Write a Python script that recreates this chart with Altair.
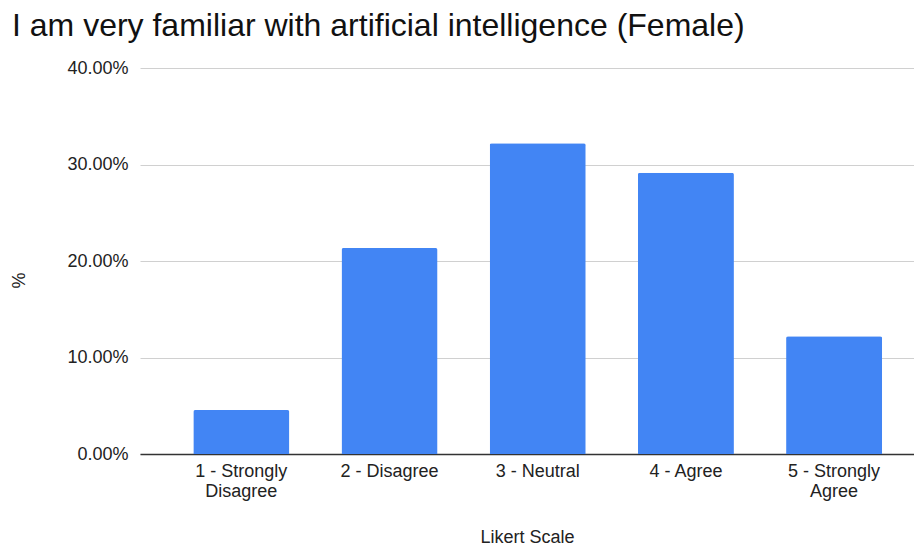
import altair as alt
import pandas as pd

categories = ["1 - Strongly\nDisagree", "2 - Disagree", "3 - Neutral", "4 - Agree", "5 - Strongly\nAgree"]
percent = [0.0456, 0.2135, 0.3220, 0.2915, 0.1220]

df = pd.DataFrame({"Likert": categories, "pct": percent})

FONT = "Liberation Sans"

chart = alt.Chart(df).mark_bar(
    color="#4285F4", cornerRadiusTopLeft=2, cornerRadiusTopRight=2
).encode(
    x=alt.X(
        "Likert:N",
        sort=categories,
        title="Likert Scale",
        scale=alt.Scale(paddingInner=0.352, paddingOuter=0.2874, align=0.6256),
        axis=alt.Axis(
            labelAngle=0,
            labelExpr="split(datum.label, '\\n')",
            labelFont=FONT,
            labelFontSize=18,
            labelColor="#222222",
            labelLineHeight=20,
            labelPadding=8,
            ticks=False,
            domainColor="#333333",
            domainWidth=1.5,
            titleFont=FONT,
            titleFontSize=18,
            titleFontWeight="normal",
            titleColor="#222222",
            titlePadding=28,
            grid=False,
        ),
    ),
    y=alt.Y(
        "pct:Q",
        title="%",
        scale=alt.Scale(domain=[0, 0.4], nice=False),
        axis=alt.Axis(
            format=".2%",
            values=[0, 0.1, 0.2, 0.3, 0.4],
            labelFont=FONT,
            labelFontSize=18,
            labelColor="#222222",
            labelPadding=12,
            ticks=False,
            domain=False,
            gridColor="#d0d0d0",
            gridWidth=1,
            titleFont=FONT,
            titleFontSize=18,
            titleFontWeight="normal",
            titleColor="#222222",
            titleX=-112,
            titleY=212,
        ),
    ),
).properties(
    width=774,
    height=386,
    autosize=alt.AutoSizeParams(type="none"),
    padding={"left": 132, "top": 60, "right": 0, "bottom": 92},
    title=alt.TitleParams(
        "I am very familiar with artificial intelligence (Female)",
        font=FONT,
        fontSize=32,
        fontWeight="normal",
        color="#111111",
        anchor="start",
        frame="group",
        dx=-128,
        offset=16,
    ),
).configure_view(stroke=None)

chart.save("out.html", embed_options={"renderer": "svg", "actions": False})
